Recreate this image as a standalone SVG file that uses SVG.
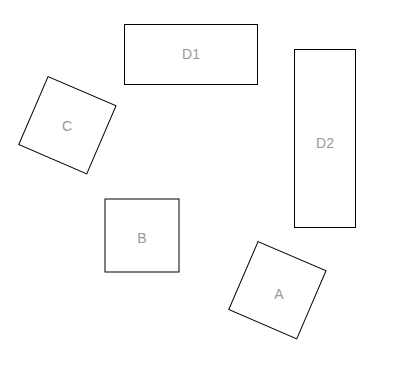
<svg xmlns="http://www.w3.org/2000/svg" width="405" height="382" viewBox="0 0 405 382">
<style>
.n{fill:#fff;stroke:#000;stroke-width:1}
.t{font-family:"Liberation Sans",Arial,sans-serif;font-size:14px;fill:#999;text-anchor:middle;dominant-baseline:central}
</style>
<rect width="405" height="382" fill="#fff"/>
<g id="connectors"></g>
<g id="D1"><rect class="n" x="124.5" y="24.5" width="133" height="60"/><text class="t" x="191" y="54">D1</text></g>
<g id="D2"><rect class="n" x="294.5" y="49.5" width="61" height="178"/><text class="t" x="325" y="143">D2</text></g>
<g id="C"><rect class="n" x="-37" y="-37" width="74" height="74" transform="translate(67.4 125.2) rotate(23.3)"/><text class="t" x="67" y="126">C</text></g>
<g id="B"><rect class="n" x="105" y="199" width="74" height="73"/><text class="t" x="142" y="238">B</text></g>
<g id="A"><rect class="n" x="-37" y="-37" width="74" height="74" transform="translate(277.4 290.2) rotate(23.3)"/><text class="t" x="279" y="294">A</text></g>
</svg>
